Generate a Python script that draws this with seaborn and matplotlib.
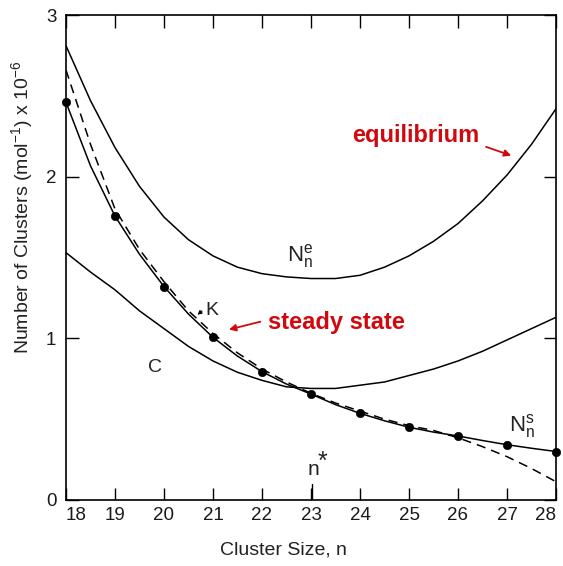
import matplotlib
matplotlib.use("Agg")
import matplotlib.pyplot as plt
import seaborn as sns
import pandas as pd

# ---- data ----
n_curve = [18, 18.5, 19, 19.5, 20, 20.5, 21, 21.5, 22, 22.5, 23,
           23.5, 24, 24.5, 25, 25.5, 26, 26.5, 27, 27.5, 28]
equilibrium = [2.81, 2.47, 2.18, 1.94, 1.75, 1.61, 1.51, 1.44, 1.40, 1.38, 1.37,
               1.37, 1.39, 1.44, 1.51, 1.60, 1.71, 1.85, 2.01, 2.20, 2.42]
curve_c = [1.53, 1.41, 1.30, 1.17, 1.06, 0.95, 0.86, 0.79, 0.74, 0.70, 0.69,
           0.69, 0.71, 0.73, 0.77, 0.81, 0.86, 0.92, 0.99, 1.06, 1.13]
curve_k = [2.66, 2.20, 1.80, 1.55, 1.35, 1.17, 1.03, 0.91, 0.81, 0.73, 0.66,
           0.60, 0.55, 0.50, 0.46, 0.43, 0.385, 0.33, 0.268, 0.195, 0.113]
steady_line = [2.46, 2.067, 1.756, 1.52, 1.32, 1.15, 1.006, 0.89, 0.794, 0.717, 0.655,
               0.59, 0.536, 0.49, 0.45, 0.42, 0.396, 0.368, 0.342, 0.32, 0.30]
n_points = [18, 19, 20, 21, 22, 23, 24, 25, 26, 27, 28]
steady_points = [2.46, 1.756, 1.32, 1.006, 0.794, 0.655, 0.536, 0.45, 0.396, 0.342, 0.30]
x_ticks = [18, 19, 20, 21, 22, 23, 24, 25, 26, 27, 28]
y_ticks = [0, 1, 2, 3]

df = pd.DataFrame({"n": n_curve, "eq": equilibrium, "C": curve_c,
                   "K": curve_k, "ss": steady_line})
dots = pd.DataFrame({"n": n_points, "ss": steady_points})

sns.set_theme(style="white")
plt.rcParams["font.family"] = ["Liberation Sans", "DejaVu Sans"]
plt.rcParams["mathtext.fontset"] = "custom"
plt.rcParams["mathtext.rm"] = "Liberation Sans"

fig = plt.figure(figsize=(5.63, 5.66), dpi=100)
ax = fig.add_axes([66 / 563, 1 - 500 / 566, 490 / 563, 485 / 566])

lw = 1.1
sns.lineplot(data=df, x="n", y="eq", ax=ax, color="black", lw=lw)
sns.lineplot(data=df, x="n", y="C", ax=ax, color="black", lw=lw)
sns.lineplot(data=df, x="n", y="ss", ax=ax, color="black", lw=lw)
sns.lineplot(data=df, x="n", y="K", ax=ax, color="black", lw=lw,
             dashes=False, linestyle=(0, (6, 4)))
sns.scatterplot(data=dots, x="n", y="ss", ax=ax, color="black", s=36,
                edgecolor="black", zorder=5, clip_on=False)

ax.set_xlim(18, 28)
ax.set_ylim(0, 3)
ax.set_xticks(x_ticks)
ax.set_yticks(y_ticks)
ax.set_xticklabels([str(t) for t in x_ticks], fontsize=13.5)
ax.set_yticklabels([str(t) for t in y_ticks], fontsize=13.5)
ax.tick_params(direction="in", length=9, width=1.0, color="black",
               top=True, right=True, bottom=True, left=True,
               labelcolor="#1a1a1a")
ax.tick_params(axis="x", pad=5)
ax.tick_params(axis="y", pad=7)
ax.tick_params(axis="x", labeltop=False)
ax.tick_params(axis="y", labelright=False)
xl = ax.get_xticklabels()
xl[0].set_ha("left")
xl[-1].set_ha("right")
for sp in ax.spines.values():
    sp.set_visible(True)
    sp.set_color("black")
    sp.set_linewidth(1.2)

ax.set_xlabel("Cluster Size, n", fontsize=14, color="#222222")
ax.set_ylabel(r"Number of Clusters (mol$^{-1}$) x 10$^{-6}$", fontsize=14, color="#222222")
ax.xaxis.set_label_coords(0.443, -0.085)
ax.yaxis.set_label_coords(-0.062, 0.604)

# n* marker tick
ax.plot([23.03, 23.03], [0, 0.1], color="black", lw=1.0)

# labels
txt = "#222222"
ax.text(22.78, 1.51, r"$\mathregular{N_n^e}$", fontsize=16, ha="center", va="center", color=txt)
ax.text(27.31, 0.46, r"$\mathregular{N_n^s}$", fontsize=16, ha="center", va="center", color=txt)
ax.text(20.98, 1.17, "K", fontsize=14, ha="center", va="center", color=txt)
ax.annotate("", xy=(20.64, 1.135), xytext=(20.82, 1.18),
            arrowprops=dict(arrowstyle="-|>", color="black", lw=0.8,
                            mutation_scale=6))
ax.text(19.82, 0.82, "C", fontsize=14, ha="center", va="center", color=txt)
ax.text(23.04, 0.19, "n", fontsize=15, ha="center", va="center", color=txt)
ax.text(23.24, 0.235, "*", fontsize=18, ha="center", va="center", color=txt)

red = "#d0090f"
ax.text(25.14, 2.255, "equilibrium", fontsize=17, fontweight="bold",
        color=red, ha="center", va="center")
ax.annotate("", xy=(27.14, 2.125), xytext=(26.52, 2.19),
            arrowprops=dict(arrowstyle="-|>", color=red, lw=1.3, mutation_scale=10))
ax.text(23.51, 1.095, "steady state", fontsize=17, fontweight="bold",
        color=red, ha="center", va="center")
ax.annotate("", xy=(21.27, 1.05), xytext=(22.02, 1.107),
            arrowprops=dict(arrowstyle="-|>", color=red, lw=1.3, mutation_scale=10))

fig.savefig("out.png", dpi=100)
